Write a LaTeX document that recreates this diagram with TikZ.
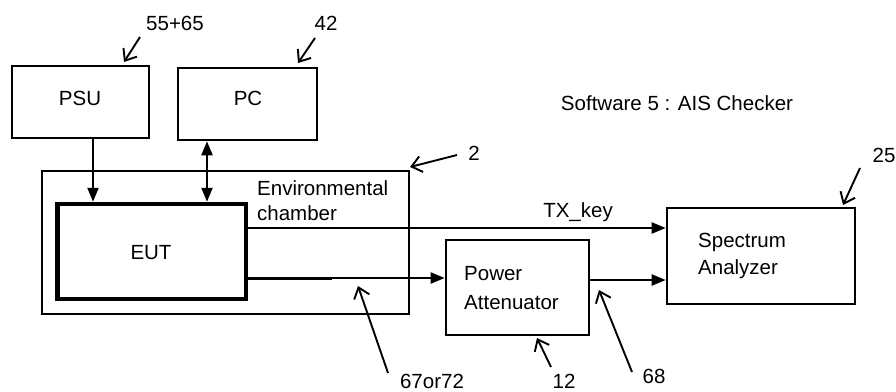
\documentclass[tikz,border=0pt]{standalone}
\usepackage{fontspec}
\setmainfont{Liberation Sans}
\usetikzlibrary{arrows.meta}
\begin{document}
\begin{tikzpicture}[x=1pt,y=-1pt,
  font=\fontsize{20.5}{27}\selectfont,
  box/.style={draw,line width=2.6pt,rectangle,inner sep=0pt},
  lbl/.style={inner sep=0pt},
  conn/.style={line width=2.2pt,-{Triangle[length=14pt,width=11pt]}},
  conntwo/.style={line width=2.2pt,{Triangle[length=14pt,width=11pt]}-{Triangle[length=14pt,width=11pt]}},
  note/.style={line width=1.9pt,-{Straight Barb[length=10pt,width=16pt,line width=1.9pt]}}]
\useasboundingbox[fill=white] (0,0) rectangle (896,391);

% boxes
\node[box,minimum width=137pt,minimum height=72pt] (psu) at (80.5,102) {};
\node[box,minimum width=139pt,minimum height=72pt] (pc) at (247.5,104) {};
\node[draw,line width=2pt,rectangle,inner sep=0pt,minimum width=367pt,minimum height=143pt] (ch) at (225.5,242.5) {};
\node[draw,line width=4.5pt,rectangle,inner sep=0pt,minimum width=188.5pt,minimum height=95pt] (eut) at (151.75,251.5) {};
\node[box,minimum width=143pt,minimum height=95pt] (pa) at (517.5,287.5) {};
\node[box,minimum width=188pt,minimum height=96pt] (sa) at (761,256) {};

% texts
\node[lbl] (tpsu) at (80,98) {PSU};
\node[lbl] (tpc) at (248,98) {PC};
\node[lbl] (teut) at (151,253) {EUT};
\node[lbl,anchor=base west] (tenv1) at (257,195.4) {Environmental};
\node[lbl,anchor=base west] (tenv2) at (257,220.4) {chamber};
\node[lbl,anchor=base west] (tpa1) at (464,280.4) {Power};
\node[lbl,anchor=base west] (tpa2) at (464,309.4) {Attenuator};
\node[lbl,anchor=base west] (tsa1) at (698,247.4) {Spectrum};
\node[lbl,anchor=base west] (tsa2) at (698,274.4) {Analyzer};
\node[lbl] (tsw) at (677,103) {Software 5 : AIS Checker};
\node[lbl,anchor=base] (ttx) at (578,217.4) {TX\_key};

% connectors
\coordinate (c1) at (93,0);
\coordinate (c2) at (207,0);
\coordinate (r1) at (0,228);
\coordinate (r2) at (0,278);
\coordinate (r3) at (0,280);
\coordinate (r2end) at (332,278);
\draw[conn] (psu.south -| c1) -- (eut.north -| c1);
\draw[conntwo] (pc.south -| c2) -- (eut.north -| c2);
\draw[conn] (eut.east |- r1) -- (sa.west |- r1);
\draw[conn] (eut.east |- r2) -- (pa.west |- r2);
\draw[line width=3pt] (eut.east |- r2) -- (r2end);
\draw[conn] (pa.east |- r3) -- (sa.west |- r3);

% reference numbers
\node[lbl] (n1) at (175,23) {55+65};
\node[lbl] (n2) at (326,23) {42};
\node[lbl] (n3) at (474,153) {2};
\node[lbl] (n4) at (884,155) {25};
\node[lbl] (n5) at (432,381) {67or72};
\node[lbl] (n6) at (564,381) {12};
\node[lbl] (n7) at (654,376) {68};

\coordinate (a1s) at (140,37);  \coordinate (a1e) at (124,62);
\coordinate (a2s) at (315,38);  \coordinate (a2e) at (298,63);
\coordinate (a3s) at (457,155); \coordinate (a3e) at (410,167);
\coordinate (a4s) at (860,168); \coordinate (a4e) at (843,205);
\coordinate (a5s) at (388,373); \coordinate (a5e) at (358,286);
\coordinate (a6s) at (551,367); \coordinate (a6e) at (537,338);
\coordinate (a7s) at (632,372); \coordinate (a7e) at (599,290);
\draw[note] (a1s) -- (a1e);
\draw[note] (a2s) -- (a2e);
\draw[note] (a3s) -- (a3e);
\draw[note] (a4s) -- (a4e);
\draw[note] (a5s) -- (a5e);
\draw[note] (a6s) -- (a6e);
\draw[note] (a7s) -- (a7e);
\end{tikzpicture}
\end{document}
